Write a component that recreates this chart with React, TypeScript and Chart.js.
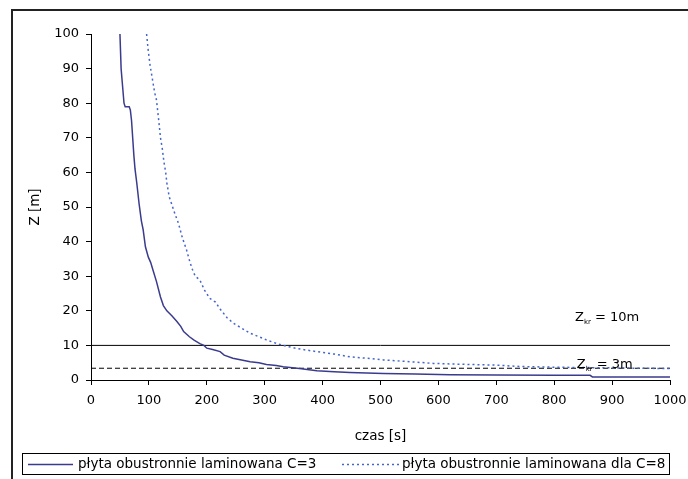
import React, { useEffect, useRef } from "react";
import { Chart, registerables } from "chart.js";

Chart.register(...registerables);

// ---- data ----
const seriesLabels = [
  "płyta obustronnie laminowana C=3",
  "płyta obustronnie laminowana dla C=8",
];

// C=3 (solid)
const solidT = [50, 51, 52, 54, 56, 57, 59, 66, 68, 70, 72, 74, 76, 79, 83, 87, 90, 94, 99, 103, 107, 113, 120, 125, 131, 140, 148, 155, 160, 170, 178, 188, 195, 200, 210, 223, 230, 245, 260, 275, 290, 303, 320, 332, 360, 390, 420, 447, 505, 560, 620, 700, 800, 862, 866, 1000];
const solidZ = [100, 95, 90, 86, 82, 80, 79, 79, 78, 75, 70, 65, 61, 57, 51, 46, 43.5, 38.5, 35.5, 34, 31.8, 28.5, 24, 21.5, 20, 18.5, 17, 15.5, 14, 12.5, 11.5, 10.5, 10, 9.2, 8.8, 8.2, 7.2, 6.3, 5.8, 5.3, 5.0, 4.5, 4.2, 3.8, 3.3, 2.7, 2.4, 2.2, 1.9, 1.7, 1.5, 1.45, 1.4, 1.35, 0.9, 0.85];

// C=8 (dotted)
const dottedT = [96, 99, 102, 106, 110, 113, 117, 120, 123, 126, 129, 131, 135, 139, 145, 151, 158, 165, 171, 175, 180, 188, 196, 205, 215, 223, 235, 246, 260, 275, 290, 303, 320, 332, 350, 370, 390, 420, 447, 475, 505, 550, 591, 650, 700, 741, 800, 850, 900, 950, 1000];
const dottedZ = [100, 95, 91, 87, 83, 81, 75, 70, 67, 63, 60, 57, 53, 51, 48, 45.3, 41, 37.6, 34, 32, 30, 28.9, 26, 23.6, 22.5, 20.5, 18, 16.4, 15, 13.5, 12.5, 11.6, 10.6, 10, 9.3, 8.7, 8.2, 7.5, 6.7, 6.3, 5.8, 5.3, 4.8, 4.5, 4.3, 3.9, 3.7, 3.6, 3.5, 3.4, 3.3];

// critical levels (horizontal lines) and their labels
const criticalLevels = [10, 3.4];
const criticalLabels = ["= 10m", "= 3m"];
const criticalLabelT = [836, 839];
const criticalLabelZ = [17.9, 4.3];

const xMin = 0, xMax = 1000, xStep = 100;
const yMin = 0, yMax = 100, yStep = 10;
const xTitle = "czas [s]";
const yTitle = "Z [m]";

const FONT = "DejaVu Sans";

const framePlugin = {
  id: "frameLegend",
  afterDraw(chart: any) {
    const ctx = chart.ctx as CanvasRenderingContext2D;
    ctx.save();
    // outer frame (top + left)
    ctx.strokeStyle = "#222";
    ctx.lineWidth = 2;
    ctx.beginPath();
    ctx.moveTo(12, 479);
    ctx.lineTo(12, 10);
    ctx.lineTo(690, 10);
    ctx.stroke();

    // critical level labels
    const xs = chart.scales.x, ys = chart.scales.y;
    ctx.fillStyle = "#000";
    ctx.textBaseline = "middle";
    ctx.textAlign = "left";
    criticalLabels.forEach((lab, i) => {
      const px = xs.getPixelForValue(criticalLabelT[i]);
      const py = ys.getPixelForValue(criticalLabelZ[i]);
      ctx.font = `13px "${FONT}"`;
      ctx.fillText("Z", px, py);
      const w1 = ctx.measureText("Z").width;
      ctx.font = `7px "${FONT}"`;
      ctx.fillText("kr", px + w1, py + 4);
      const w2 = ctx.measureText("kr").width;
      ctx.font = `13px "${FONT}"`;
      ctx.fillText(" " + lab, px + w1 + w2, py);
    });

    // legend box
    ctx.fillStyle = "#fff";
    ctx.fillRect(22.5, 453.5, 647, 21);
    ctx.strokeStyle = "#000";
    ctx.lineWidth = 1;
    ctx.setLineDash([]);
    ctx.strokeRect(22.5, 453.5, 647, 21);
    const items = [
      { x0: 28, x1: 73, tx: 78 },
      { x0: 342, x1: 400, tx: 402 },
    ];
    items.forEach((it, i) => {
      const ds = chart.data.datasets[i];
      ctx.strokeStyle = ds.borderColor;
      ctx.lineWidth = ds.borderWidth;
      ctx.setLineDash(ds.borderDash || []);
      ctx.beginPath();
      ctx.moveTo(it.x0, 464.5);
      ctx.lineTo(it.x1, 464.5);
      ctx.stroke();
      ctx.setLineDash([]);
      ctx.fillStyle = "#000";
      ctx.font = `13.5px "${FONT}"`;
      ctx.textBaseline = "middle";
      ctx.fillText(ds.label, it.tx, 464);
    });
    ctx.restore();
  },
};

export default function App() {
  const ref = useRef<HTMLCanvasElement | null>(null);
  useEffect(() => {
    if (!ref.current) return;
    const chart = new Chart(ref.current, {
      type: "scatter",
      data: {
        datasets: [
          {
            label: seriesLabels[0],
            data: solidT.map((t, i) => ({ x: t, y: solidZ[i] })),
            borderColor: "#3b3b8e",
            borderWidth: 1.5,
            pointRadius: 0,
            showLine: true,
            tension: 0,
          },
          {
            label: seriesLabels[1],
            data: dottedT.map((t, i) => ({ x: t, y: dottedZ[i] })),
            borderColor: "#4466cc",
            borderWidth: 1.5,
            borderDash: [2, 3],
            pointRadius: 0,
            showLine: true,
            tension: 0,
          },
          ...criticalLevels.map((lv, i) => ({
            label: "Zkr" + criticalLabels[i],
            data: [
              { x: xMin, y: lv },
              { x: xMax, y: lv },
            ],
            borderColor: "#000",
            borderWidth: 1,
            borderDash: i === 0 ? [] : [5, 3],
            pointRadius: 0,
            showLine: true,
          })),
        ] as any,
      },
      options: {
        animation: false,
        responsive: false,
        devicePixelRatio: 1,
        layout: { padding: { top: 34, right: 18, left: 0, bottom: 0 } },
        plugins: {
          legend: { display: false },
          tooltip: { enabled: false },
        },
        scales: {
          x: {
            type: "linear",
            min: xMin,
            max: xMax,
            ticks: {
              stepSize: xStep,
              color: "#000",
              font: { family: FONT, size: 13 },
              padding: 8,
              maxRotation: 0,
              callback: (v: any) => String(v),
            },
            grid: {
              drawOnChartArea: false,
              drawTicks: true,
              tickLength: 5,
              color: "#000",
            },
            border: { display: true, color: "#000", width: 1 },
            title: {
              display: true,
              text: xTitle,
              color: "#000",
              font: { family: FONT, size: 13.5 },
              padding: { top: 0, bottom: 34 },
            },
            afterFit(scale: any) {
              scale.height = 99;
              scale.paddingRight = 0;
              scale.paddingLeft = 0;
            },
          },
          y: {
            type: "linear",
            min: yMin,
            max: yMax,
            ticks: {
              stepSize: yStep,
              color: "#000",
              font: { family: FONT, size: 13 },
              padding: 7,
              callback: (v: any) => String(v),
            },
            grid: {
              drawOnChartArea: false,
              drawTicks: true,
              tickLength: 5,
              color: "#000",
            },
            border: { display: true, color: "#000", width: 1 },
            title: {
              display: true,
              text: yTitle,
              color: "#000",
              font: { family: FONT, size: 13.5 },
              padding: { top: 27, bottom: 0 },
            },
            afterFit(scale: any) {
              scale.width = 91;
              scale.paddingTop = 0;
              scale.paddingBottom = 0;
            },
          },
        },
      },
      plugins: [framePlugin],
    });
    return () => chart.destroy();
  }, []);
  return (
    <div style={{ position: "absolute", left: 0, top: 0, width: 688, height: 479, background: "#fff" }}>
      <canvas ref={ref} width={688} height={479} />
    </div>
  );
}
